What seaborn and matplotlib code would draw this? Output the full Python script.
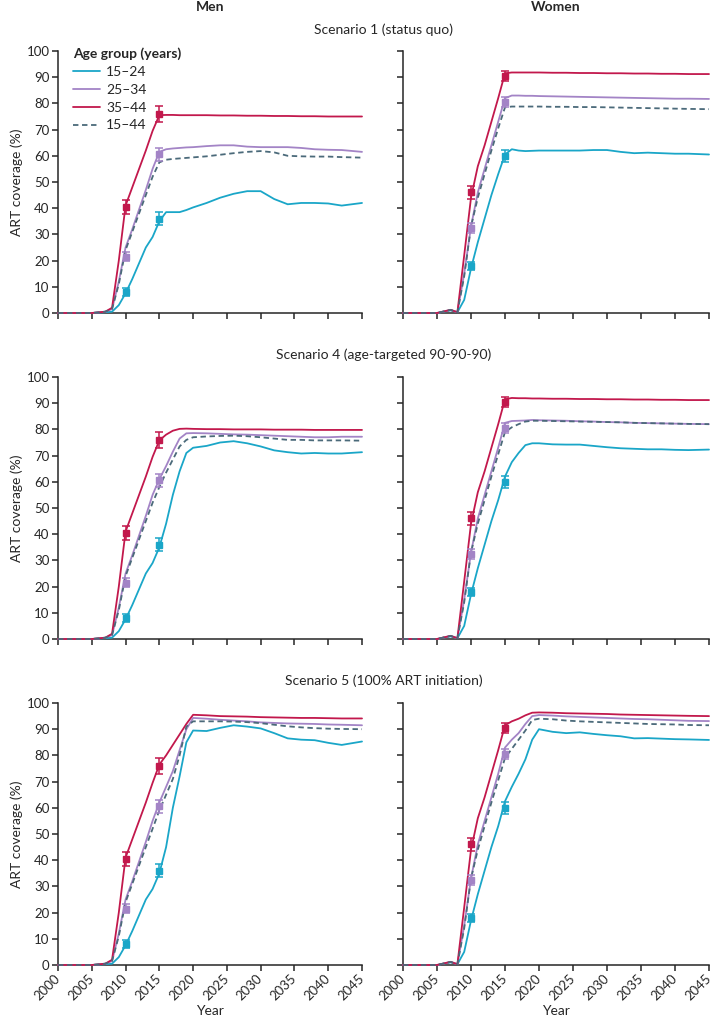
import matplotlib
matplotlib.use("Agg")
import numpy as np
import pandas as pd
import seaborn as sns
import matplotlib.pyplot as plt
from matplotlib.lines import Line2D

# ---- data ----
HIST_YEARS = [2000, 2005, 2007, 2008, 2009, 2010, 2011, 2012, 2013, 2014]
PROJ_YEARS = [2015, 2016, 2017, 2018, 2019, 2020, 2022, 2024, 2026, 2028,
              2030, 2032, 2034, 2036, 2038, 2040, 2042, 2045]

GROUPS = ["15–24", "25–34", "35–44", "15–44"]

men_hist_1524 = [0, 0, 0.3, 0.5, 3, 7.5, 13, 19, 25, 29]
men_hist_2534 = [0, 0, 0.5, 1.5, 12, 25, 32, 39.5, 47, 55]
men_hist_3544 = [0, 0, 0.5, 2, 20, 41, 48, 55, 62, 69.5]
men_hist_1544 = [0, 0, 0.5, 1.5, 11, 24, 31, 38, 45, 52]

women_hist_1524 = [0, 0, 1, 0.3, 5, 17, 27, 36, 45, 53]
women_hist_2534 = [0, 0, 1.2, 0.3, 15, 33, 46, 55, 64, 73]
women_hist_3544 = [0, 0, 1.2, 0.3, 22, 44, 56, 64, 73, 82]
women_hist_1544 = [0, 0, 1.2, 0.3, 14, 33, 44, 53, 62, 70.5]

# scenario 1 (status quo)
s1_men_1524 = [35, 38.5, 38.5, 38.5, 39.3, 40.3, 42, 44, 45.5, 46.5, 46.5, 43.5, 41.5, 42, 42, 41.8, 41, 42]
s1_men_2534 = [61.5, 62.5, 62.8, 63, 63.2, 63.3, 63.7, 64, 64, 63.5, 63.3, 63.3, 63.3, 63, 62.5, 62.3, 62.2, 61.5]
s1_men_3544 = [75.5, 75.6, 75.6, 75.5, 75.5, 75.5, 75.5, 75.4, 75.4, 75.3, 75.3, 75.2, 75.2, 75.1, 75.1, 75, 75, 75]
s1_men_1544 = [57.5, 58.5, 58.8, 59, 59.2, 59.4, 59.8, 60.4, 61, 61.5, 61.8, 61.3, 60, 59.8, 59.7, 59.7, 59.5, 59.3]
s1_women_1524 = [60.5, 62.5, 62, 61.8, 61.9, 62, 62, 62, 62, 62.2, 62.2, 61.5, 61, 61.2, 61, 60.8, 60.8, 60.5]
s1_women_2534 = [82, 83, 83, 82.9, 82.9, 82.8, 82.7, 82.6, 82.5, 82.4, 82.3, 82.2, 82.1, 82, 81.9, 81.8, 81.8, 81.7]
s1_women_3544 = [91.5, 91.8, 91.8, 91.8, 91.8, 91.8, 91.7, 91.7, 91.6, 91.6, 91.5, 91.5, 91.4, 91.4, 91.3, 91.3, 91.2, 91.2]
s1_women_1544 = [78.5, 78.8, 78.8, 78.8, 78.8, 78.8, 78.7, 78.7, 78.6, 78.6, 78.5, 78.4, 78.3, 78.2, 78.1, 78, 77.9, 77.8]

# scenario 4 (age-targeted 90-90-90)
s4_men_1524 = [35, 44, 55, 64, 71, 73, 73.7, 75, 75.5, 74.7, 73.5, 72, 71.3, 70.8, 71, 70.8, 70.8, 71.3]
s4_men_2534 = [61, 66, 71.5, 76.5, 78.5, 78.6, 78.5, 78.3, 78.1, 78, 77.8, 77.6, 77.4, 77.2, 77, 77, 77.2, 77.2]
s4_men_3544 = [75.8, 78, 79.5, 80.2, 80.3, 80.2, 80.1, 80.1, 80, 80, 80, 79.9, 79.9, 79.9, 79.8, 79.8, 79.8, 79.8]
s4_men_1544 = [58, 63.5, 68.5, 73.5, 76, 77, 77.3, 77.5, 77.6, 77.4, 77, 76.5, 76, 76, 75.8, 75.8, 75.8, 75.7]
s4_women_1524 = [62, 67.5, 71, 74, 74.7, 74.7, 74.3, 74.2, 74.2, 73.7, 73.2, 72.8, 72.6, 72.4, 72.4, 72.2, 72.1, 72.3]
s4_women_2534 = [82.5, 83.2, 83.3, 83.4, 83.6, 83.5, 83.4, 83.3, 83.1, 83, 82.8, 82.7, 82.5, 82.4, 82.3, 82.2, 82.1, 82]
s4_women_3544 = [91.5, 92, 91.9, 91.9, 91.8, 91.8, 91.7, 91.7, 91.6, 91.6, 91.5, 91.5, 91.4, 91.4, 91.3, 91.3, 91.2, 91.2]
s4_women_1544 = [79, 80.8, 82, 83, 83.3, 83.3, 83.2, 83.1, 83, 82.9, 82.8, 82.7, 82.5, 82.4, 82.3, 82.2, 82.1, 82]

# scenario 5 (100% ART initiation)
s5_men_1524 = [35, 45, 60, 72, 85, 89.5, 89.3, 90.5, 91.5, 91, 90.3, 88.5, 86.5, 86, 85.8, 84.8, 84, 85.3]
s5_men_2534 = [62, 68, 74, 82, 90, 94.3, 94, 93.6, 93.3, 93, 92.6, 92.4, 92.2, 92.1, 92, 91.8, 91.7, 91.5]
s5_men_3544 = [76.5, 80, 84, 88, 92, 95.5, 95.3, 95, 94.9, 94.8, 94.6, 94.5, 94.4, 94.3, 94.3, 94.2, 94.1, 94.1]
s5_men_1544 = [59, 65, 71, 80, 91, 93, 93, 93, 92.9, 92.7, 92.3, 91.7, 91.1, 90.7, 90.4, 90.2, 90.1, 90]
s5_women_1524 = [62.5, 68, 73, 78.5, 86, 90, 89, 88.5, 88.8, 88.2, 87.7, 87.3, 86.5, 86.6, 86.4, 86.2, 86.1, 85.9]
s5_women_2534 = [83, 86, 88.5, 92, 95, 95.4, 95.2, 94.9, 94.7, 94.5, 94.3, 94.1, 93.9, 93.8, 93.6, 93.4, 93.2, 93.1]
s5_women_3544 = [91.5, 93, 94, 95.3, 96.3, 96.4, 96.3, 96.1, 96, 95.9, 95.8, 95.6, 95.5, 95.4, 95.3, 95.2, 95.1, 95]
s5_women_1544 = [79, 82.5, 86, 89.5, 93.5, 94, 93.8, 93.3, 93, 92.8, 92.6, 92.4, 92.2, 92, 91.9, 91.8, 91.6, 91.5]

# observed estimates with error bars
OBS_YEARS = [2010, 2015]
obs_men_1524 = [8, 36]
obs_men_2534 = [21.5, 60.5]
obs_men_3544 = [40.5, 76]
obs_women_1524 = [18, 60]
obs_women_2534 = [32.5, 80.5]
obs_women_3544 = [46, 90.5]
err_men_1524 = [1.5, 2.5]
err_men_2534 = [1.8, 2.5]
err_men_3544 = [2.7, 3]
err_women_1524 = [1.5, 2.2]
err_women_2534 = [2, 2]
err_women_3544 = [2.3, 1.8]

SCENARIO_TITLES = ["Scenario 1 (status quo)",
                   "Scenario 4 (age-targeted 90-90-90)",
                   "Scenario 5 (100% ART initiation)"]

COLORS = {"15–24": "#1aa6c8", "25–34": "#a384c6", "35–44": "#c2184c", "15–44": "#4b6a7a"}

hist = {
    "Men": [men_hist_1524, men_hist_2534, men_hist_3544, men_hist_1544],
    "Women": [women_hist_1524, women_hist_2534, women_hist_3544, women_hist_1544],
}
proj = [
    {"Men": [s1_men_1524, s1_men_2534, s1_men_3544, s1_men_1544],
     "Women": [s1_women_1524, s1_women_2534, s1_women_3544, s1_women_1544]},
    {"Men": [s4_men_1524, s4_men_2534, s4_men_3544, s4_men_1544],
     "Women": [s4_women_1524, s4_women_2534, s4_women_3544, s4_women_1544]},
    {"Men": [s5_men_1524, s5_men_2534, s5_men_3544, s5_men_1544],
     "Women": [s5_women_1524, s5_women_2534, s5_women_3544, s5_women_1544]},
]
obs = {
    "Men": [(obs_men_1524, err_men_1524), (obs_men_2534, err_men_2534), (obs_men_3544, err_men_3544)],
    "Women": [(obs_women_1524, err_women_1524), (obs_women_2534, err_women_2534), (obs_women_3544, err_women_3544)],
}

# ---- figure ----
sns.set_style("ticks")
plt.rcParams["font.family"] = ["Lato", "DejaVu Sans"]
plt.rcParams["font.size"] = 9

W, H = 713, 1026
fig = plt.figure(figsize=(W / 100, H / 100), dpi=100)

col_x = [(58, 362), (403, 709)]
row_y = [(51, 313), (377, 639), (703, 965)]

for r in range(3):
    for c, sex in enumerate(["Men", "Women"]):
        x0, x1 = col_x[c]
        y0, y1 = row_y[r]
        ax = fig.add_axes([x0 / W, 1 - y1 / H, (x1 - x0) / W, (y1 - y0) / H])

        rows = []
        for g, h, p in zip(GROUPS, hist[sex], proj[r][sex]):
            for yr, v in zip(HIST_YEARS + PROJ_YEARS, h + p):
                rows.append((yr, v, g))
        df = pd.DataFrame(rows, columns=["year", "coverage", "group"])

        for g in ["15–24", "25–34", "35–44", "15–44"]:
            sub = df[df["group"] == g]
            sns.lineplot(data=sub, x="year", y="coverage", color=COLORS[g], lw=1.3,
                         linestyle=(0, (3, 2)) if g == "15–44" else "-",
                         ax=ax, legend=False, clip_on=False, zorder=3)

        for g, (vals, errs) in zip(GROUPS[:3], obs[sex]):
            ax.errorbar(OBS_YEARS, vals, yerr=errs, fmt="s", ms=4.5, color=COLORS[g],
                        ecolor=COLORS[g], elinewidth=1.1, capsize=2.8, capthick=1.1,
                        clip_on=False, zorder=4)

        ax.set_xlim(2000, 2045)
        ax.set_ylim(0, 100)
        ax.set_xticks(range(2000, 2046, 5))
        ax.set_yticks(range(0, 101, 10))
        sns.despine(ax=ax)
        for s in ["left", "bottom"]:
            ax.spines[s].set_linewidth(1.1)
        ax.tick_params(length=4, width=1.1, labelsize=9.5, pad=2)
        ax.set_xlabel("")
        ax.set_ylabel("")

        if r == 2:
            ax.set_xticklabels([str(t) for t in range(2000, 2046, 5)], rotation=45,
                               ha="right", va="center", rotation_mode="anchor")
            ax.tick_params(axis="x", pad=4)
            ax.set_xlabel("Year", fontsize=10, labelpad=2)
        else:
            ax.set_xticklabels([])
        if c == 0:
            ax.set_ylabel("ART coverage (%)", fontsize=10)
            ax.yaxis.set_label_coords(-0.115, 0.5)
        else:
            ax.set_yticklabels([])

        if r == 0 and c == 0:
            handles = [Line2D([], [], color=COLORS[g], lw=1.3,
                              linestyle=(0, (3, 2)) if g == "15–44" else "-") for g in GROUPS]
            ax.legend(handles, GROUPS, title="Age group (years)", loc="upper left",
                      bbox_to_anchor=(0.03, 1.035), frameon=False, fontsize=10,
                      title_fontproperties={"weight": "bold", "size": 10},
                      alignment="left", handlelength=2.0, handletextpad=0.4,
                      labelspacing=0.42, borderaxespad=0)

for r, t in enumerate(SCENARIO_TITLES):
    yc = [30, 355, 681][r]
    fig.text(383.5 / W, 1 - yc / H, t, ha="center", va="center", fontsize=10)

fig.text(210 / W, 1 - 7 / H, "Men", ha="center", va="center", fontsize=10, weight="bold")
fig.text(556 / W, 1 - 7 / H, "Women", ha="center", va="center", fontsize=10, weight="bold")

fig.savefig("out.png", dpi=100)
